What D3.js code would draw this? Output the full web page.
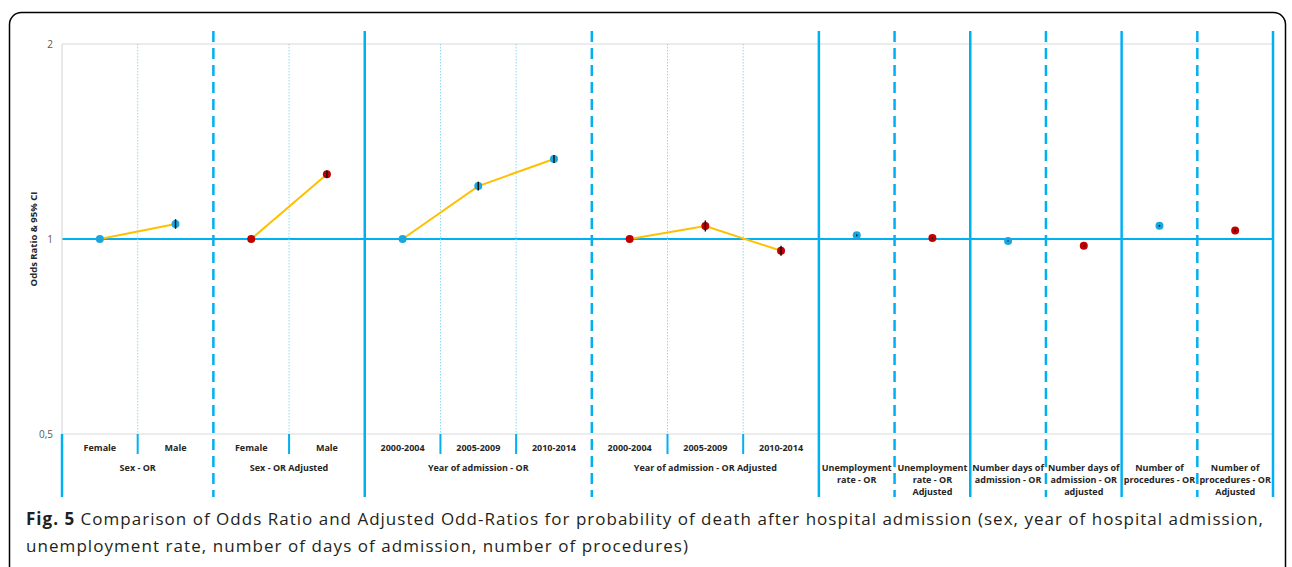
<!DOCTYPE html>
<html>
<head>
<meta charset="utf-8">
<script src="https://cdn.jsdelivr.net/npm/d3@7"></script>
<style>
  body { margin: 0; background: #fff; }
  text { font-family: "Open Sans", sans-serif; }
</style>
</head>
<body>
<div id="chart"></div>
<script>
// categories along the x axis (one slot each)
var categories = ["Female", "Male", "Female", "Male",
  "2000-2004", "2005-2009", "2010-2014",
  "2000-2004", "2005-2009", "2010-2014",
  "", "", "", "", "", ""];

// groups of slots, their labels and the line style that closes them
var groupNames = [["Sex - OR"], ["Sex - OR Adjusted"], ["Year of admission - OR"],
  ["Year of admission - OR Adjusted"],
  ["Unemployment", "rate - OR"], ["Unemployment", "rate - OR", "Adjusted"],
  ["Number days of", "admission - OR"], ["Number days of", "admission - OR", "adjusted"],
  ["Number of", "procedures - OR"], ["Number of", "procedures - OR", "Adjusted"]];
var groupSizes = [2, 2, 3, 3, 1, 1, 1, 1, 1, 1];
var groupEnd = ["dashed", "solid", "dashed", "solid", "dashed", "solid", "dashed", "solid", "dashed", "solid"];
var groupAdjusted = [false, true, false, true, false, true, false, true, false, true];

// odds ratios and 95% CI per slot
var oddsRatio = [1.0, 1.055, 1.0, 1.259, 1.0, 1.207, 1.329, 1.0, 1.047, 0.959, 1.013, 1.004, 0.993, 0.976, 1.048, 1.031];
var ciLow =     [1.0, 1.037, 1.0, 1.242, 1.0, 1.188, 1.310, 1.0, 1.027, 0.942, 1.010, 1.001, 0.991, 0.973, 1.045, 1.027];
var ciHigh =    [1.0, 1.073, 1.0, 1.276, 1.0, 1.226, 1.348, 1.0, 1.068, 0.976, 1.016, 1.007, 0.995, 0.979, 1.051, 1.035];

var yTicks = [0.5, 1, 2];
var yTickLabels = ["0,5", "1", "2"];

var caption1 = "Comparison of Odds Ratio and Adjusted Odd-Ratios for probability of death after hospital admission (sex, year of hospital admission,";
var caption2 = "unemployment rate, number of days of admission, number of procedures)";

var width = 1292, height = 567;
var blue = "#00b0f0", red = "#c00000", yellow = "#ffc000";

var svg = d3.select("#chart").append("svg")
    .attr("width", width)
    .attr("height", height);

// outer frame
svg.append("rect")
    .attr("x", 9.5).attr("y", 12.5)
    .attr("width", 1276).attr("height", 600)
    .attr("rx", 12)
    .attr("fill", "none")
    .attr("stroke", "#000")
    .attr("stroke-width", 1.5);

var x = d3.scaleBand()
    .domain(d3.range(categories.length))
    .range([62, 1273]);

var y = d3.scaleLog()
    .domain([0.5, 2])
    .range([434, 44]);

// slot -> group
var slotGroup = [];
groupSizes.forEach(function(n, g) { for (var k = 0; k < n; k++) slotGroup.push(g); });

// gray gridlines for 0.5 and 2, blue line at 1
svg.selectAll(".grid")
    .data(yTicks)
  .enter().append("line")
    .attr("x1", 62).attr("x2", 1273)
    .attr("y1", function(d) { return y(d); })
    .attr("y2", function(d) { return y(d); })
    .attr("stroke", function(d) { return d === 1 ? blue : "#d9d9d9"; })
    .attr("stroke-width", function(d) { return d === 1 ? 2 : 1.2; });

// y axis line (gray part)
svg.append("line")
    .attr("x1", 62).attr("x2", 62)
    .attr("y1", y(2)).attr("y2", y(0.5))
    .attr("stroke", "#d9d9d9").attr("stroke-width", 1.2);
svg.append("line")
    .attr("x1", 62).attr("x2", 62)
    .attr("y1", y(0.5)).attr("y2", 497)
    .attr("stroke", blue).attr("stroke-width", 2.5);

// tick labels
svg.selectAll(".ytick")
    .data(yTicks)
  .enter().append("text")
    .attr("x", 53)
    .attr("y", function(d) { return y(d) + 3.5; })
    .attr("text-anchor", "end")
    .attr("font-size", 10)
    .attr("fill", "#595959")
    .text(function(d, i) { return yTickLabels[i]; });

svg.append("text")
    .attr("transform", "translate(37," + y(1) + ") rotate(-90)")
    .attr("text-anchor", "middle")
    .attr("font-size", 9.5)
    .attr("font-weight", "bold")
    .attr("fill", "#262626")
    .text("Odds Ratio & 95% CI");

// vertical dividers inside groups
var inner = d3.range(1, categories.length).filter(function(i) { return slotGroup[i] === slotGroup[i - 1]; });
svg.selectAll(".inner")
    .data(inner)
  .enter().append("line")
    .attr("x1", function(i) { return x(i); })
    .attr("x2", function(i) { return x(i); })
    .attr("y1", y(2)).attr("y2", y(0.5))
    .attr("stroke", "#8fd8f5").attr("stroke-width", 1)
    .attr("stroke-dasharray", "1.5,1.5");
svg.selectAll(".innertick")
    .data(inner)
  .enter().append("line")
    .attr("x1", function(i) { return x(i); })
    .attr("x2", function(i) { return x(i); })
    .attr("y1", y(0.5)).attr("y2", 454)
    .attr("stroke", blue).attr("stroke-width", 2);

// group separators
var ends = [];
var acc = 0;
groupSizes.forEach(function(n, g) { acc += n; ends.push({ slot: acc, style: groupEnd[g] }); });
svg.selectAll(".sep")
    .data(ends)
  .enter().append("line")
    .attr("x1", function(d) { return d.slot < categories.length ? x(d.slot) : x.range()[1]; })
    .attr("x2", function(d) { return d.slot < categories.length ? x(d.slot) : x.range()[1]; })
    .attr("y1", 31).attr("y2", 497)
    .attr("stroke", blue)
    .attr("stroke-width", 2.5)
    .attr("stroke-dasharray", function(d) { return d.style === "dashed" ? "11,6" : null; });

// category labels
svg.selectAll(".cat")
    .data(categories)
  .enter().append("text")
    .attr("x", function(d, i) { return x(i) + x.bandwidth() / 2; })
    .attr("y", 451)
    .attr("text-anchor", "middle")
    .attr("font-size", 9)
    .attr("font-weight", "bold")
    .attr("fill", "#262626")
    .text(function(d) { return d; });

// group labels
var start = 0;
var groupCenters = groupSizes.map(function(n) {
  var c = x(start) + n * x.bandwidth() / 2;
  start += n;
  return c;
});
var gl = svg.selectAll(".grp")
    .data(groupNames)
  .enter().append("text")
    .attr("x", function(d, g) { return groupCenters[g]; })
    .attr("y", 471)
    .attr("text-anchor", "middle")
    .attr("font-size", 9)
    .attr("font-weight", "bold")
    .attr("fill", "#262626");
gl.selectAll("tspan")
    .data(function(d) { return d; })
  .enter().append("tspan")
    .attr("x", function() { return d3.select(this.parentNode).attr("x"); })
    .attr("dy", function(d, i) { return i === 0 ? 0 : 12; })
    .text(function(d) { return d; });

// yellow connecting lines per group
var line = d3.line()
    .x(function(i) { return x(i) + x.bandwidth() / 2; })
    .y(function(i) { return y(oddsRatio[i]); });
groupSizes.forEach(function(n, g) {
  if (n < 2) return;
  var slots = d3.range(categories.length).filter(function(i) { return slotGroup[i] === g; });
  svg.append("path")
      .attr("d", line(slots))
      .attr("fill", "none")
      .attr("stroke", yellow)
      .attr("stroke-width", 2);
});

// points
svg.selectAll(".pt")
    .data(oddsRatio)
  .enter().append("circle")
    .attr("cx", function(d, i) { return x(i) + x.bandwidth() / 2; })
    .attr("cy", function(d) { return y(d); })
    .attr("r", 4)
    .attr("fill", function(d, i) { return groupAdjusted[slotGroup[i]] ? red : "#1aa7e0"; });

// confidence intervals
svg.selectAll(".ci")
    .data(oddsRatio)
  .enter().append("line")
    .attr("x1", function(d, i) { return x(i) + x.bandwidth() / 2; })
    .attr("x2", function(d, i) { return x(i) + x.bandwidth() / 2; })
    .attr("y1", function(d, i) { return y(ciLow[i]); })
    .attr("y2", function(d, i) { return y(ciHigh[i]); })
    .attr("stroke", "#111")
    .attr("stroke-width", 1.5);

// caption
var cap = svg.append("text")
    .attr("x", 26).attr("y", 525)
    .attr("font-size", 17)
    .attr("fill", "#231f20")
    .attr("textLength", 1237)
    .attr("lengthAdjust", "spacing");
cap.append("tspan").attr("font-weight", "bold").text("Fig. 5");
cap.append("tspan").text(" " + caption1);
svg.append("text")
    .attr("x", 26).attr("y", 552)
    .attr("font-size", 17)
    .attr("fill", "#231f20")
    .attr("textLength", 662)
    .attr("lengthAdjust", "spacing")
    .text(caption2);
</script>
</body>
</html>
